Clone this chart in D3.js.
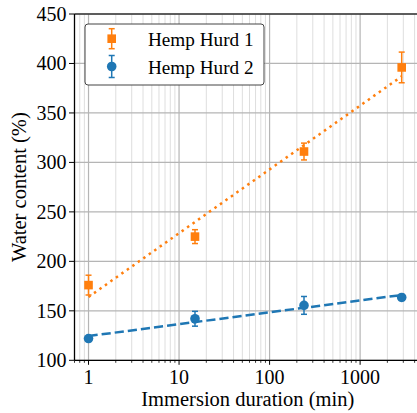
<!DOCTYPE html>
<html>
<head>
<meta charset="utf-8">
<script src="https://cdn.jsdelivr.net/npm/d3@7"></script>
<style>
  html, body { margin: 0; padding: 0; background: #fff; }
  svg { display: block; }
</style>
</head>
<body>
<svg id="chart" width="417" height="413" font-family="'Liberation Serif', 'Times New Roman', Times, 'DejaVu Serif', serif"></svg>
<script>
// Immersion durations (min)
const durations = [1, 15, 240, 2880];

// Water content (%) and standard deviations
const seriesNames = ["Hemp Hurd 1", "Hemp Hurd 2"];
const hurd1 = [176, 225, 311, 396];
const hurd1Err = [10, 7, 8.5, 15.5];
const hurd2 = [122, 142, 155.5, 163.5];
const hurd2Err = [2, 7.5, 9, 3];

// Log-linear trend lines: end points at the first and last duration
const fitX = [1, 2880];
const fit1 = [164, 387];
const fit2 = [124.5, 166];

// Axis ticks
const xTicks = [1, 10, 100, 1000];
const xTickLabels = ["1", "10", "100", "1000"];
const yTicks = [100, 150, 200, 250, 300, 350, 400, 450];

const orange = "#ff7f0e", blue = "#1f77b4";
const serif = "'Liberation Serif', 'Times New Roman', Times, 'DejaVu Serif', serif";

const svg = d3.select("#chart");
const plotLeft = 74.5, plotTop = 14, plotBottom = 360.3, plotRight = 417;

const x = d3.scaleLog().domain([0.7, 4250]).range([plotLeft, plotRight]);
const y = d3.scaleLinear().domain([100, 450]).range([plotBottom, plotTop]);

// minor ticks 2..9 of each decade inside the domain
const minorTicks = [];
for (let e = -1; e <= 3; e++) {
  for (let m = 2; m <= 9; m++) {
    const v = m * Math.pow(10, e);
    if (v > 0.7 && v < 4250) minorTicks.push(v);
  }
}

const grid = svg.append("g");
grid.selectAll(".minor").data(minorTicks).join("line")
  .attr("x1", d => x(d)).attr("x2", d => x(d))
  .attr("y1", plotTop).attr("y2", plotBottom)
  .attr("stroke", "#dedede").attr("stroke-width", 1);
grid.selectAll(".majx").data(xTicks).join("line")
  .attr("x1", d => x(d)).attr("x2", d => x(d))
  .attr("y1", plotTop).attr("y2", plotBottom)
  .attr("stroke", "#b5b5b5").attr("stroke-width", 1.2);
grid.selectAll(".majy").data(yTicks).join("line")
  .attr("x1", plotLeft).attr("x2", plotRight)
  .attr("y1", d => y(d)).attr("y2", d => y(d))
  .attr("stroke", "#b5b5b5").attr("stroke-width", 1.2);

// Trend lines
const line = d3.line().x(d => x(d[0])).y(d => y(d[1]));
svg.append("path")
  .attr("d", line(fitX.map((v, i) => [v, fit1[i]])))
  .attr("fill", "none").attr("stroke", orange).attr("stroke-width", 2.5)
  .attr("stroke-dasharray", "2.5,4.2");
svg.append("path")
  .attr("d", line(fitX.map((v, i) => [v, fit2[i]])))
  .attr("fill", "none").attr("stroke", blue).attr("stroke-width", 2.5)
  .attr("stroke-dasharray", "9.2,4");

// Error bars and markers
function drawSeries(vals, errs, color, shape) {
  const g = svg.append("g");
  const pts = durations.map((d, i) => ({ d, v: vals[i], e: errs[i] }));
  g.selectAll(".eb").data(pts).join("line")
    .attr("x1", p => x(p.d)).attr("x2", p => x(p.d))
    .attr("y1", p => y(p.v - p.e)).attr("y2", p => y(p.v + p.e))
    .attr("stroke", color).attr("stroke-width", 1.5);
  ["lo", "hi"].forEach(k => {
    g.selectAll(".cap" + k).data(pts).join("line")
      .attr("x1", p => x(p.d) - 3).attr("x2", p => x(p.d) + 3)
      .attr("y1", p => y(k === "lo" ? p.v - p.e : p.v + p.e))
      .attr("y2", p => y(k === "lo" ? p.v - p.e : p.v + p.e))
      .attr("stroke", color).attr("stroke-width", 1.5);
  });
  if (shape === "square") {
    g.selectAll(".mk").data(pts).join("rect")
      .attr("x", p => x(p.d) - 4.3).attr("y", p => y(p.v) - 4.3)
      .attr("width", 8.6).attr("height", 8.6).attr("fill", color);
  } else {
    g.selectAll(".mk").data(pts).join("circle")
      .attr("cx", p => x(p.d)).attr("cy", p => y(p.v)).attr("r", 4.8)
      .attr("fill", color);
  }
}
drawSeries(hurd1, hurd1Err, orange, "square");
drawSeries(hurd2, hurd2Err, blue, "circle");

// Spines
svg.append("line").attr("x1", plotLeft).attr("x2", plotRight).attr("y1", plotTop).attr("y2", plotTop)
  .attr("stroke", "#333").attr("stroke-width", 1.3);
svg.append("line").attr("x1", plotLeft).attr("x2", plotLeft).attr("y1", plotTop).attr("y2", plotBottom)
  .attr("stroke", "#000").attr("stroke-width", 1.3);
svg.append("line").attr("x1", plotLeft).attr("x2", plotRight).attr("y1", plotBottom).attr("y2", plotBottom)
  .attr("stroke", "#000").attr("stroke-width", 1.3);

// X ticks
svg.selectAll(".xt").data(xTicks).join("line")
  .attr("x1", d => x(d)).attr("x2", d => x(d))
  .attr("y1", plotBottom).attr("y2", plotBottom + 4.5)
  .attr("stroke", "#000").attr("stroke-width", 1);
svg.selectAll(".xmt").data(minorTicks).join("line")
  .attr("x1", d => x(d)).attr("x2", d => x(d))
  .attr("y1", plotBottom).attr("y2", plotBottom + 2.5)
  .attr("stroke", "#000").attr("stroke-width", 0.8);
svg.selectAll(".xl").data(xTicks).join("text")
  .attr("x", d => x(d)).attr("y", 384)
  .attr("text-anchor", "middle").attr("font-size", 20)
  .attr("font-family", serif).attr("fill", "#000")
  .text((d, i) => xTickLabels[i]);

// Y ticks
svg.selectAll(".yt").data(yTicks).join("line")
  .attr("x1", plotLeft - 5.5).attr("x2", plotLeft)
  .attr("y1", d => y(d)).attr("y2", d => y(d))
  .attr("stroke", "#000").attr("stroke-width", 1);
svg.selectAll(".yl").data(yTicks).join("text")
  .attr("x", 66.5).attr("y", d => y(d) + 6.8)
  .attr("text-anchor", "end").attr("font-size", 20)
  .attr("font-family", serif).attr("fill", "#000")
  .text(d => d);

// Axis titles
svg.append("text").attr("x", (plotLeft + plotRight) / 2 + 2).attr("y", 406)
  .attr("text-anchor", "middle").attr("font-size", 20.5)
  .attr("font-family", serif).attr("fill", "#000")
  .text("Immersion duration (min)");
svg.append("text")
  .attr("transform", `translate(25.5, ${(plotTop + plotBottom) / 2}) rotate(-90)`)
  .attr("text-anchor", "middle").attr("font-size", 20.5)
  .attr("font-family", serif).attr("fill", "#000")
  .text("Water content (%)");

// Legend
const lg = svg.append("g");
lg.append("rect").attr("x", 85).attr("y", 24).attr("width", 179).attr("height", 61)
  .attr("rx", 3).attr("fill", "#fff").attr("stroke", "#444").attr("stroke-width", 1);
const legendRows = [
  { name: seriesNames[0], color: orange, shape: "square", cy: 38.7, e: 10 },
  { name: seriesNames[1], color: blue, shape: "circle", cy: 66.5, e: 11 }
];
legendRows.forEach(r => {
  const cx = 111.7;
  lg.append("line").attr("x1", cx).attr("x2", cx).attr("y1", r.cy - r.e).attr("y2", r.cy + r.e)
    .attr("stroke", r.color).attr("stroke-width", 1.5);
  [r.cy - r.e, r.cy + r.e].forEach(cy => lg.append("line")
    .attr("x1", cx - 3).attr("x2", cx + 3).attr("y1", cy).attr("y2", cy)
    .attr("stroke", r.color).attr("stroke-width", 1.5));
  if (r.shape === "square") {
    lg.append("rect").attr("x", cx - 4.3).attr("y", r.cy - 4.3).attr("width", 8.6).attr("height", 8.6)
      .attr("fill", r.color);
  } else {
    lg.append("circle").attr("cx", cx).attr("cy", r.cy).attr("r", 4.8).attr("fill", r.color);
  }
  lg.append("text").attr("x", 148).attr("y", r.cy + 7).attr("font-size", 19.2)
    .attr("font-family", serif).attr("fill", "#000").text(r.name);
});
</script>
</body>
</html>
